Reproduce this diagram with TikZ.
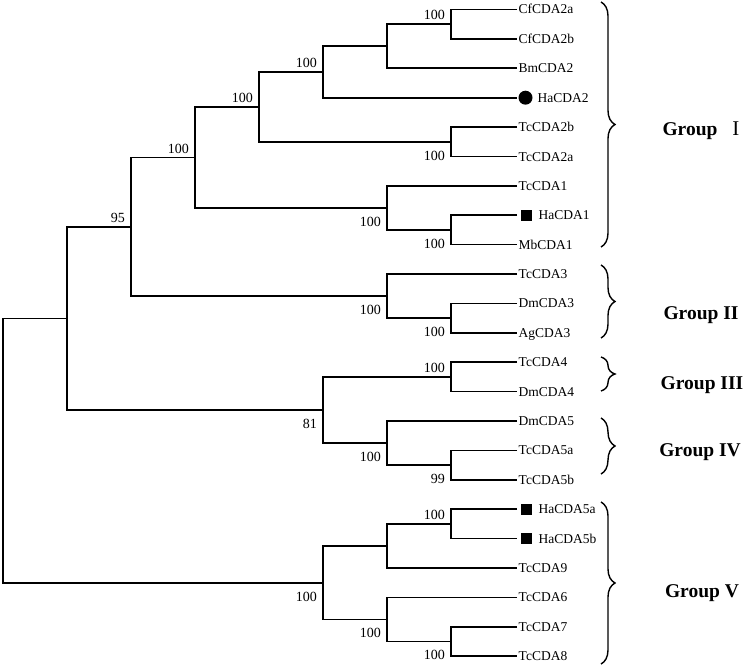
\documentclass[tikz,border=0pt]{standalone}
\usepackage{fontspec}
\setmainfont{Liberation Serif}
\usepackage{tikz}
\usetikzlibrary{positioning,decorations.pathreplacing}
\tikzset{
  branch/.style={line width=1.6pt, draw=black},
  leaf/.style={anchor=west, inner xsep=1.5pt, inner ysep=0pt,
               text height=9pt, text depth=0pt,
               font=\fontsize{13.5}{15}\selectfont},
  boot/.style={inner sep=0pt, font=\fontsize{14}{15}\selectfont},
  bootup/.style={boot, anchor=south east, xshift=-6pt, yshift=4pt},
  bootdn/.style={boot, anchor=north east, xshift=-6pt, yshift=-9pt},
  dotmark/.style={circle, fill=black, minimum size=14pt, inner sep=0pt,
                  outer sep=1.5pt, anchor=west},
  sqmark/.style={rectangle, fill=black, minimum size=11pt, inner sep=0pt,
                 outer sep=4pt, anchor=west},
  brace/.style={decorate, decoration={brace, amplitude=14pt}, line width=1.4pt},
  grp/.style={anchor=base, inner sep=0pt, font=\fontsize{19.5}{22}\selectfont\bfseries}
}

\begin{document}
\begin{tikzpicture}[x=1pt, y=-1pt]
  \useasboundingbox (0,0) rectangle (755,669);

  % leaves, tips at x=517, one row every 29.4
  \node[leaf] (cf2a) at (517,9.5) {CfCDA2a};
  \node[leaf] (cf2b) at (517,38.9) {CfCDA2b};
  \node[leaf] (bm2) at (517,68.3) {BmCDA2};
  \node[dotmark] (ha2m) at (517,97.7) {};
  \node[leaf, right=2pt of ha2m] (ha2) {HaCDA2};
  \node[leaf] (tc2b) at (517,127.1) {TcCDA2b};
  \node[leaf] (tc2a) at (517,156.5) {TcCDA2a};
  \node[leaf] (tc1) at (517,185.8) {TcCDA1};
  \node[sqmark] (ha1m) at (517,215.2) {};
  \node[leaf, right=1pt of ha1m] (ha1) {HaCDA1};
  \node[leaf] (mb1) at (517,244.6) {MbCDA1};
  \node[leaf] (tc3) at (517,274.0) {TcCDA3};
  \node[leaf] (dm3) at (517,303.4) {DmCDA3};
  \node[leaf] (ag3) at (517,332.8) {AgCDA3};
  \node[leaf] (tc4) at (517,362.2) {TcCDA4};
  \node[leaf] (dm4) at (517,391.6) {DmCDA4};
  \node[leaf] (dm5) at (517,421.0) {DmCDA5};
  \node[leaf] (tc5a) at (517,450.4) {TcCDA5a};
  \node[leaf] (tc5b) at (517,479.8) {TcCDA5b};
  \node[sqmark] (ha5am) at (517,509.2) {};
  \node[leaf, right=1pt of ha5am] (ha5a) {HaCDA5a};
  \node[sqmark] (ha5bm) at (517,538.6) {};
  \node[leaf, right=1pt of ha5bm] (ha5b) {HaCDA5b};
  \node[leaf] (tc9) at (517,568.0) {TcCDA9};
  \node[leaf] (tc6) at (517,597.3) {TcCDA6};
  \node[leaf] (tc7) at (517,626.7) {TcCDA7};
  \node[leaf] (tc8) at (517,656.1) {TcCDA8};

  % inner nodes
  \coordinate (cf) at (451,24.2);
  \coordinate (bm) at (387,46.25);
  \coordinate (ha2c) at (323,72);
  \coordinate (tc2) at (451,141.8);
  \coordinate (cda2) at (259,106.9);
  \coordinate (mb) at (451,229.9);
  \coordinate (cda1) at (387,207.9);
  \coordinate (g1) at (195,157.4);
  \coordinate (dag) at (451,318.1);
  \coordinate (g2) at (387,296.05);
  \coordinate (g12) at (131,226.7);
  \coordinate (g3) at (451,376.9);
  \coordinate (tc5) at (451,465.1);
  \coordinate (g4) at (387,443.05);
  \coordinate (g34) at (323,410);
  \coordinate (g1234) at (67,318.4);
  \coordinate (ha5) at (451,523.9);
  \coordinate (tc9c) at (387,546);
  \coordinate (tc78) at (451,641.4);
  \coordinate (tc6c) at (387,619.4);
  \coordinate (g5) at (323,582.7);
  \coordinate (root) at (3,450.5);

  % group I
  \draw[branch] (cf2a.west) -| (cf) |- (cf2b.west);
  \draw[branch] (cf) -| (bm) |- (bm2.west);
  \draw[branch] (bm) -| (ha2c) |- (ha2m.west);
  \draw[branch] (tc2b.west) -| (tc2) |- (tc2a.west);
  \draw[branch] (ha2c) -| (cda2) |- (tc2);
  \draw[branch] (ha1m.west) -| (mb) |- (mb1.west);
  \draw[branch] (tc1.west) -| (cda1) |- (mb);
  \draw[branch] (cda2) -| (g1) |- (cda1);
  % group II
  \draw[branch] (dm3.west) -| (dag) |- (ag3.west);
  \draw[branch] (tc3.west) -| (g2) |- (dag);
  \draw[branch] (g1) -| (g12) |- (g2);
  % groups III and IV
  \draw[branch] (tc4.west) -| (g3) |- (dm4.west);
  \draw[branch] (tc5a.west) -| (tc5) |- (tc5b.west);
  \draw[branch] (dm5.west) -| (g4) |- (tc5);
  \draw[branch] (g3) -| (g34) |- (g4);
  \draw[branch] (g12) -| (g1234) |- (g34);
  % group V
  \draw[branch] (ha5am.west) -| (ha5) |- (ha5bm.west);
  \draw[branch] (ha5) -| (tc9c) |- (tc9.west);
  \draw[branch] (tc7.west) -| (tc78) |- (tc8.west);
  \draw[branch] (tc6.west) -| (tc6c) |- (tc78);
  \draw[branch] (tc9c) -| (g5) |- (tc6c);
  \draw[branch] (g1234) -| (root) |- (g5);

  % bootstrap values
  \node[bootup] (bcf) at (cf) {100};
  \node[bootup] (bha2) at (ha2c) {100};
  \node[bootup] (bcda2) at (cda2) {100};
  \node[bootup] (bg1) at (g1) {100};
  \node[bootup] (bg12) at (g12) {95};
  \node[bootdn] (btc2) at (tc2) {100};
  \node[bootdn] (bcda1) at (cda1) {100};
  \node[bootdn] (bmb) at (mb) {100};
  \node[bootdn] (bg2) at (g2) {100};
  \node[bootdn] (bdag) at (dag) {100};
  \node[bootup] (bg3) at (g3) {100};
  \node[bootdn] (bg34) at (g34) {81};
  \node[bootdn] (bg4) at (g4) {100};
  \node[bootdn] (btc5) at (tc5) {99};
  \node[bootup] (bha5) at (ha5) {100};
  \node[bootdn] (bg5) at (g5) {100};
  \node[bootdn] (btc6) at (tc6c) {100};
  \node[bootdn] (btc78) at (tc78) {100};

  % braces and group names
  \coordinate (b1a) at (601,2);   \coordinate (b1b) at (601,247);
  \coordinate (b2a) at (601,265); \coordinate (b2b) at (601,338);
  \coordinate (b3a) at (601,357); \coordinate (b3b) at (601,391);
  \coordinate (b4a) at (601,418); \coordinate (b4b) at (601,474);
  \coordinate (b5a) at (601,502); \coordinate (b5b) at (601,664);
  \draw[brace] (b1a) -- (b1b);
  \draw[brace] (b2a) -- (b2b);
  \draw[brace] (b3a) -- (b3b);
  \draw[brace] (b4a) -- (b4b);
  \draw[brace] (b5a) -- (b5b);
  \node[grp] (gI) at (701,135) {Group\hspace{15pt}{\mdseries\fontsize{21}{22}\selectfont I}};
  \node[grp] (gII) at (701,319) {Group II};
  \node[grp] (gIII) at (702,389) {Group III};
  \node[grp] (gIV) at (700,456) {Group IV};
  \node[grp] (gV) at (702,597) {Group V};
\end{tikzpicture}
\end{document}
